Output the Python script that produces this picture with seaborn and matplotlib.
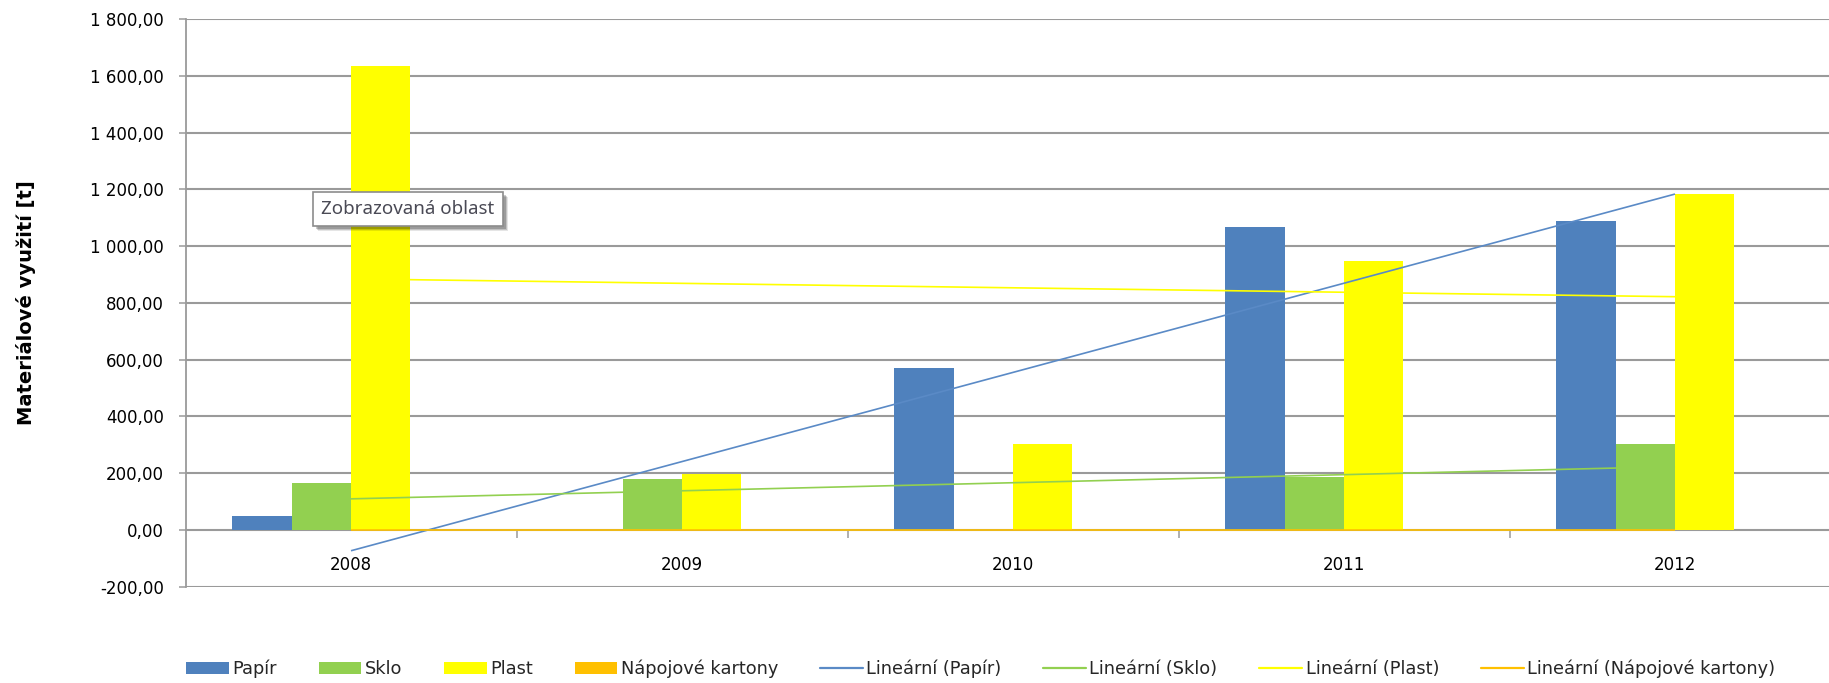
import numpy as np
import pandas as pd
import matplotlib
matplotlib.use("Agg")
import matplotlib.pyplot as plt
import seaborn as sns
from matplotlib.patches import Patch, Rectangle
from matplotlib.lines import Line2D
from matplotlib.ticker import FuncFormatter, FixedLocator

# ---- data ----
years = ["2008", "2009", "2010", "2011", "2012"]
papir = [50, 0, 572, 1067, 1087]
sklo = [165, 178, 0, 188, 302]
plast = [1635, 199, 302, 948, 1182]
kartony = [0, 0, 0, 0, 0]
series_names = ["Papír", "Sklo", "Plast", "Nápojové kartony"]
bar_colors = ["#4F81BD", "#92D050", "#FFFF00", "#FFC000"]
trend_colors = ["#5A8AC6", "#92D050", "#FFFF00", "#FFC000"]
y_ticks = [-200, 0, 200, 400, 600, 800, 1000, 1200, 1400, 1600, 1800]
y_label = "Materiálové využití [t]"
tooltip_text = "Zobrazovaná oblast"

values = [papir, sklo, plast, kartony]
df = pd.DataFrame({
    "year": years * 4,
    "material": [n for n in series_names for _ in years],
    "value": [v for s in values for v in s],
})

sns.set_style("white")
plt.rcParams["font.family"] = ["DejaVu Sans"]

W, H = 1829, 683
fig = plt.figure(figsize=(W / 100, H / 100), dpi=100)
left_px, right_px = 185.5, 1840.5
top_px, bot_px = 19.0, 586.8
ax = fig.add_axes([left_px / W, 1 - bot_px / H, (right_px - left_px) / W, (bot_px - top_px) / H])

grid_c = "#9a9a9a"
sns.barplot(data=df, x="year", y="value", hue="material", order=years,
            hue_order=series_names, palette=bar_colors, width=0.719,
            saturation=1, errorbar=None, legend=False, linewidth=0, ax=ax, zorder=2)

# trend lines (linear regression)
xs = np.arange(len(years))
for vals, c in zip(values, trend_colors):
    k, q = np.polyfit(xs, vals, 1)
    ax.plot([xs[0], xs[-1]], [q + k * xs[0], q + k * xs[-1]], color=c, lw=1.2, zorder=3,
            solid_capstyle="butt")

ax.set_xlim(-0.5, len(years) - 0.5)
ax.set_ylim(-200, 1800)
ax.yaxis.set_major_locator(FixedLocator(y_ticks))
ax.yaxis.set_major_formatter(FuncFormatter(lambda v, p: f"{v:,.2f}".replace(",", " ").replace(".", ",")))
ax.grid(axis="y", color=grid_c, lw=1.5, zorder=0)
ax.set_axisbelow(True)
ax.set_xlabel("")
ax.set_ylabel("")

for s in ["top", "right"]:
    ax.spines[s].set_visible(False)
ax.spines["left"].set_color(grid_c)
ax.spines["left"].set_linewidth(1.3)
ax.spines["bottom"].set_position(("data", 0))
ax.spines["bottom"].set_color(grid_c)
ax.spines["bottom"].set_linewidth(1.3)
ax.spines["bottom"].set_zorder(1)

ax.tick_params(axis="y", length=5, width=1.1, color=grid_c, direction="out", pad=10.5,
               labelsize=12, labelcolor="black", left=True)
ax.tick_params(axis="x", which="major", length=0, pad=19, labelsize=12, labelcolor="black")
ax.set_xticks(np.arange(0.5, len(years) - 0.5, 1.0), minor=True)
ax.tick_params(axis="x", which="minor", length=6, width=1.1, color=grid_c, direction="out", bottom=True)

fig.text(26 / W, 1 - 303 / H, y_label, rotation=90, ha="center", va="center",
         fontsize=14, fontweight="bold", color="black")

# legend
handles = [Patch(facecolor=c, edgecolor="none") for c in bar_colors]
handles += [Line2D([0], [0], color=c, lw=1.6) for c in trend_colors]
labels = series_names + [f"Lineární ({n})" for n in series_names]
fig.legend(handles, labels, loc="center left", bbox_to_anchor=(186 / W, 1 - 669 / H),
           bbox_transform=fig.transFigure, ncol=8, frameon=False, fontsize=12.8,
           handlelength=2.4, handleheight=0.65, handletextpad=0.2, columnspacing=2.35,
           borderpad=0, borderaxespad=0)

# tooltip box
bx0, by0, bx1, by1 = 313, 192, 503, 226
for off, a in [(5, 0.10), (4, 0.15), (3, 0.2)]:
    fig.patches.append(Rectangle(((bx0 + off) / W, 1 - (by1 + off) / H), (bx1 - bx0) / W, (by1 - by0) / H,
                                 transform=fig.transFigure, facecolor="#000000", alpha=a,
                                 edgecolor="none", zorder=5))
fig.patches.append(Rectangle((bx0 / W, 1 - by1 / H), (bx1 - bx0) / W, (by1 - by0) / H,
                             transform=fig.transFigure, facecolor="white", edgecolor="#8c8c8c",
                             lw=1.2, zorder=6))
fig.text((bx0 + bx1) / 2 / W, 1 - (by0 + by1) / 2 / H, tooltip_text, ha="center", va="center",
         fontsize=13.5, family=["Noto Sans", "DejaVu Sans"], color="#4a4a55", zorder=7)

fig.savefig("out.png", dpi=100)
